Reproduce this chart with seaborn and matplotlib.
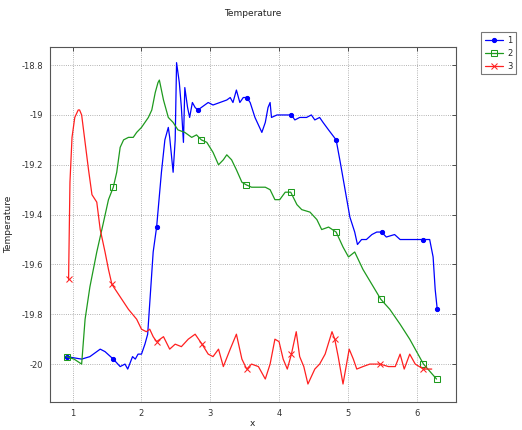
import numpy as np
import pandas as pd
import matplotlib
matplotlib.use("Agg")
import matplotlib.pyplot as plt
import seaborn as sns
from matplotlib.ticker import FuncFormatter

# ---- data ----
x1 = [0.91, 1.13, 1.25, 1.40, 1.47, 1.59, 1.69, 1.76, 1.80, 1.87, 1.91, 1.95, 2.00, 2.05, 2.09,
      2.17, 2.22, 2.29, 2.34, 2.39, 2.41, 2.46, 2.49, 2.51, 2.55, 2.58, 2.61, 2.63, 2.67, 2.70,
      2.74, 2.78, 2.82, 2.87, 2.97, 3.04, 3.14, 3.24, 3.29, 3.33, 3.38, 3.43, 3.48, 3.53, 3.58,
      3.65, 3.70, 3.75, 3.80, 3.84, 3.87, 3.89, 3.97, 4.11, 4.18, 4.23, 4.30, 4.40, 4.47, 4.52,
      4.59, 4.64, 4.72, 4.83, 4.89, 4.96, 5.03, 5.10, 5.14, 5.20, 5.27, 5.35, 5.42, 5.49, 5.56,
      5.68, 5.76, 5.90, 6.10, 6.19, 6.24, 6.27, 6.30]
y1 = [-19.97, -19.98, -19.97, -19.94, -19.95, -19.98, -20.01, -20.00, -20.02, -19.97, -19.98, -19.96,
      -19.96, -19.92, -19.88, -19.55, -19.45, -19.23, -19.10, -19.05, -19.09, -19.23, -19.10, -18.79,
      -18.87, -18.97, -19.11, -18.89, -18.97, -19.01, -18.95, -18.97, -18.98, -18.97, -18.95, -18.96,
      -18.95, -18.94, -18.93, -18.95, -18.90, -18.95, -18.93, -18.93, -18.95, -19.01, -19.04, -19.07,
      -19.03, -18.97, -18.95, -19.01, -19.00, -19.00, -19.00, -19.02, -19.01, -19.01, -19.00, -19.02,
      -19.01, -19.03, -19.06, -19.10, -19.19, -19.30, -19.41, -19.47, -19.52, -19.50, -19.50, -19.48,
      -19.47, -19.47, -19.49, -19.48, -19.50, -19.50, -19.50, -19.50, -19.57, -19.70, -19.78]

x2 = [0.91, 1.02, 1.13, 1.18, 1.25, 1.35, 1.44, 1.52, 1.59, 1.64, 1.69, 1.74, 1.81, 1.88, 1.93,
      2.00, 2.10, 2.15, 2.20, 2.24, 2.26, 2.32, 2.39, 2.46, 2.53, 2.63, 2.73, 2.80, 2.87, 2.95,
      3.04, 3.12, 3.19, 3.24, 3.31, 3.38, 3.46, 3.52, 3.60, 3.70, 3.80, 3.87, 3.94, 4.01, 4.09,
      4.17, 4.26, 4.33, 4.45, 4.55, 4.62, 4.72, 4.83, 4.93, 5.01, 5.10, 5.22, 5.35, 5.48, 5.61,
      5.76, 5.90, 6.10, 6.29]
y2 = [-19.97, -19.98, -20.00, -19.82, -19.69, -19.55, -19.44, -19.34, -19.29, -19.23, -19.13, -19.10,
      -19.09, -19.09, -19.07, -19.05, -19.01, -18.98, -18.91, -18.87, -18.86, -18.94, -19.01, -19.03,
      -19.06, -19.07, -19.09, -19.08, -19.10, -19.11, -19.15, -19.20, -19.18, -19.16, -19.18, -19.22,
      -19.27, -19.28, -19.29, -19.29, -19.29, -19.30, -19.34, -19.34, -19.31, -19.31, -19.36, -19.38,
      -19.39, -19.42, -19.46, -19.45, -19.47, -19.53, -19.57, -19.55, -19.62, -19.68, -19.74, -19.78,
      -19.84, -19.90, -20.00, -20.06]

x3 = [0.94, 0.96, 0.99, 1.03, 1.08, 1.10, 1.13, 1.18, 1.23, 1.28, 1.35, 1.40, 1.47, 1.52, 1.57,
      1.69, 1.81, 1.93, 2.00, 2.07, 2.12, 2.17, 2.22, 2.32, 2.41, 2.49, 2.58, 2.68, 2.78, 2.88,
      2.97, 3.04, 3.12, 3.19, 3.29, 3.38, 3.46, 3.53, 3.60, 3.70, 3.80, 3.87, 3.94, 4.00, 4.06,
      4.12, 4.18, 4.25, 4.30, 4.36, 4.42, 4.52, 4.59, 4.67, 4.77, 4.81, 4.86, 4.93, 5.02, 5.08,
      5.13, 5.22, 5.32, 5.47, 5.59, 5.69, 5.76, 5.82, 5.90, 5.98, 6.10, 6.22]
y3 = [-19.66, -19.27, -19.09, -19.01, -18.98, -18.98, -19.00, -19.11, -19.22, -19.32, -19.35, -19.46,
      -19.55, -19.62, -19.68, -19.73, -19.78, -19.82, -19.86, -19.87, -19.86, -19.89, -19.91, -19.89,
      -19.94, -19.92, -19.93, -19.90, -19.88, -19.92, -19.96, -19.97, -19.94, -20.01, -19.94, -19.88,
      -19.98, -20.02, -20.00, -20.01, -20.06, -20.00, -19.90, -19.91, -19.98, -20.02, -19.96, -19.87,
      -19.97, -20.01, -20.08, -20.02, -20.00, -19.96, -19.87, -19.90, -19.97, -20.08, -19.94, -19.98,
      -20.02, -20.01, -20.00, -20.00, -20.01, -20.01, -19.96, -20.02, -19.96, -20.00, -20.02, -20.02]

labels = ["1", "2", "3"]
marks1 = [0.91, 1.59, 2.22, 2.82, 3.53, 4.18, 4.83, 5.49, 6.10, 6.30]
marks2 = [0.91, 1.59, 2.87, 3.52, 4.17, 4.83, 5.48, 6.10, 6.29]
marks3 = [0.94, 1.57, 2.22, 2.88, 3.53, 4.18, 4.81, 5.47, 6.10]

xticks = [1, 2, 3, 4, 5, 6]
yticks = [-20.0, -19.8, -19.6, -19.4, -19.2, -19.0, -18.8]


def idx(xs, ms):
    xs = np.asarray(xs)
    return sorted({int(np.argmin(np.abs(xs - m))) for m in ms})


sns.set_style("white")
plt.rcParams["font.family"] = ["DejaVu Sans"]

fig = plt.figure(figsize=(5.22, 4.30), dpi=100)
ax = fig.add_axes([0.0958, 0.0658, 0.777, 0.8256])

series = [
    (x1, y1, marks1, "#0000ff", dict(marker="o", markersize=3, markerfacecolor="#0000ff",
                                      markeredgecolor="#0000ff")),
    (x2, y2, marks2, "#1e9a1e", dict(marker="s", markersize=4, markerfacecolor="none",
                                      markeredgecolor="#1e9a1e")),
    (x3, y3, marks3, "#ff2020", dict(marker="x", markersize=4, markeredgecolor="#ff2020")),
]
for (xs, ys, ms, col, mk), lab in zip(series, labels):
    df = pd.DataFrame({"x": xs, "y": ys})
    sns.lineplot(data=df, x="x", y="y", ax=ax, color=col, linewidth=0.9, sort=False,
                 estimator=None, label=lab, markevery=idx(xs, ms), **mk)

ax.set_xlim(0.67, 6.567)
ax.set_ylim(-20.151, -18.726)
ax.set_xticks(xticks)
ax.set_yticks(yticks)
ax.yaxis.set_major_formatter(FuncFormatter(lambda v, p: "%g" % round(v, 2)))
ax.grid(True, linestyle=":", color="#9a9a9a", linewidth=0.6)
ax.tick_params(direction="in", top=True, right=True, labelsize=6, length=3, width=0.6,
               colors="#333333", pad=5)
for s in ax.spines.values():
    s.set_color("#555555")
    s.set_linewidth(0.8)

ax.set_title("Temperature", fontsize=6.5, pad=22, color="#222222")
ax.set_xlabel("x", fontsize=6.5, color="#222222", labelpad=1)
ax.set_ylabel("Temperature", fontsize=6.5, color="#222222", labelpad=6)

leg = ax.legend(loc="upper left", bbox_to_anchor=(0.922, 0.925),
                bbox_transform=fig.transFigure, fontsize=6, frameon=True,
                fancybox=False, edgecolor="#555555", handlelength=2.2,
                borderpad=0.4, labelspacing=0.5, handletextpad=0.5, borderaxespad=0)
leg.get_frame().set_linewidth(0.8)

fig.savefig("out.png", dpi=100)
